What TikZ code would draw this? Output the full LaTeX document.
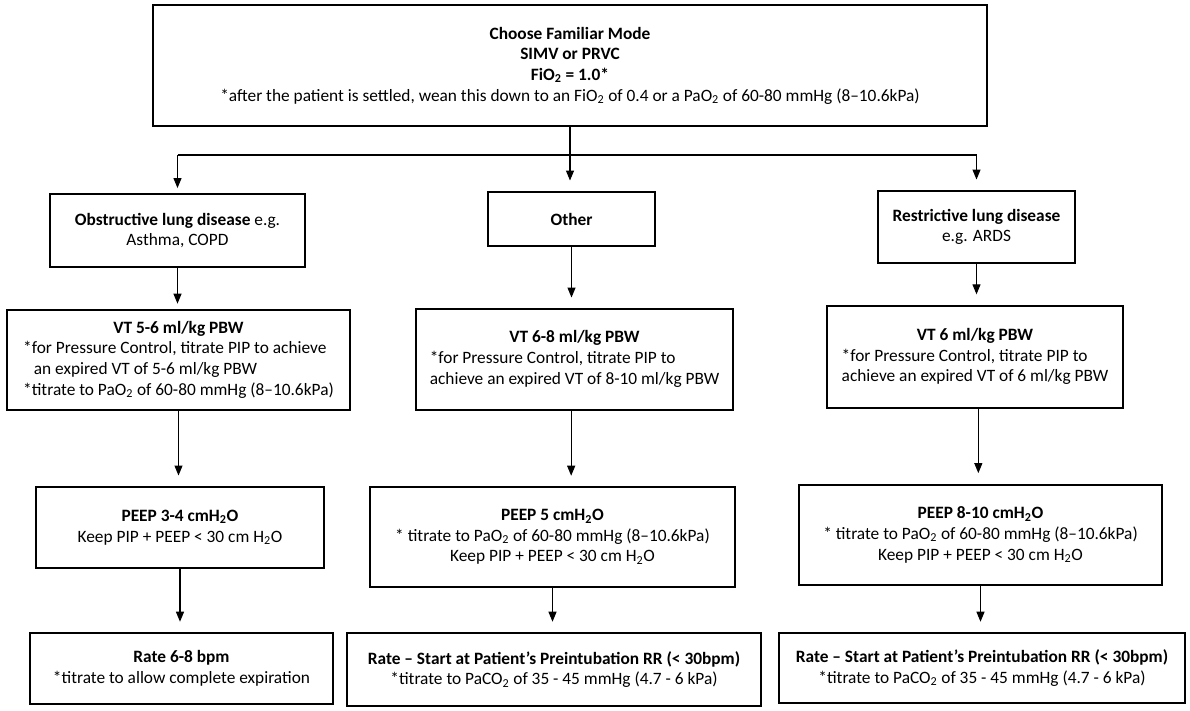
\documentclass[tikz,border=0pt]{standalone}
\usepackage{fontspec}
\setmainfont{Carlito}
\usetikzlibrary{arrows.meta, positioning}

\tikzset{
  box/.style={draw, line width=0.9pt, align=center, inner sep=2pt,
    font=\fontsize{13pt}{15.5pt}\selectfont},
  heavybox/.style={box, line width=1.5pt},
  wire/.style={line width=0.8pt},
  link/.style={wire, -{Triangle[length=7.5pt,width=6pt]}, shorten >=8pt},
}

\begin{document}
\begin{tikzpicture}[x=0.75pt, y=-0.75pt]
\useasboundingbox (0,0) rectangle (1190,711);

% mode
\node[box, minimum width=625.5pt, minimum height=90.75pt] (mode) at (570,65.5)
  {\textbf{Choose Familiar Mode}\\ \textbf{SIMV or PRVC}\\ \textbf{FiO\textsubscript{2} = 1.0*}\\
   *after the patient is settled, wean this down to an FiO\textsubscript{2} of 0.4 or a PaO\textsubscript{2} of 60-80 mmHg (8–10.6kPa)};

% disease
\node[box, minimum width=191.25pt, minimum height=54.75pt] (obstr) at (177.5,230.5)
  {\textbf{Obstructive lung disease} e.g.\\ Asthma, COPD};
\node[box, line width=1.2pt, minimum width=125.25pt, minimum height=40.5pt] (other) at (571.5,219)
  {\textbf{Other}};
\node[box, line width=1.2pt, minimum width=147.75pt, minimum height=54pt] (restr) at (976.5,227)
  {\textbf{Restrictive lung disease}\\ e.g. ARDS};

% tidal volume
\node[heavybox, minimum width=257.25pt, minimum height=75pt] (vtobstr) at (178.5,360)
  {\begin{tabular}{@{}l@{}}
   \multicolumn{1}{@{}c@{}}{\textbf{VT 5-6 ml/kg PBW}}\\
   {*}for Pressure Control, titrate PIP to achieve\\
   \hspace*{8pt}an expired VT of 5-6 ml/kg PBW\\
   {*}titrate to PaO\textsubscript{2} of 60-80 mmHg (8–10.6kPa)
   \end{tabular}};
\node[box, line width=1.2pt, minimum width=237.75pt, minimum height=75.75pt] (vtother) at (574.5,359.5)
  {\begin{tabular}{@{}l@{}}
   \multicolumn{1}{@{}c@{}}{\textbf{VT 6-8 ml/kg PBW}}\\
   {*}for Pressure Control, titrate PIP to\\
   achieve an expired VT of 8-10 ml/kg PBW
   \end{tabular}};
\node[heavybox, minimum width=222pt, minimum height=76.5pt] (vtrestr) at (975,357)
  {\begin{tabular}{@{}l@{}}
   \multicolumn{1}{@{}c@{}}{\textbf{VT 6 ml/kg PBW}}\\
   {*}for Pressure Control, titrate PIP to\\
   achieve an expired VT of 6 ml/kg PBW
   \end{tabular}};

% peep
\node[box, line width=1.2pt, minimum width=216pt, minimum height=60.75pt] (peobstr) at (180,527.5)
  {\textbf{PEEP 3-4 cmH\textsubscript{2}O}\\ Keep PIP + PEEP < 30 cm H\textsubscript{2}O};
\node[box, minimum width=273.75pt, minimum height=75pt] (peother) at (552.5,537)
  {\textbf{PEEP 5 cmH\textsubscript{2}O}\\ {*} titrate to PaO\textsubscript{2} of 60-80 mmHg (8–10.6kPa)\\
   Keep PIP + PEEP < 30 cm H\textsubscript{2}O};
\node[heavybox, line width=1.8pt, minimum width=272.25pt, minimum height=75pt] (perestr) at (980.5,535)
  {\textbf{PEEP 8-10 cmH\textsubscript{2}O}\\ {*} titrate to PaO\textsubscript{2} of 60-80 mmHg (8–10.6kPa)\\
   Keep PIP + PEEP < 30 cm H\textsubscript{2}O};

% rate
\node[box, minimum width=227.25pt, minimum height=53.25pt] (raobstr) at (181.5,668.5)
  {\textbf{Rate 6-8 bpm}\\ {*}titrate to allow complete expiration};
\node[box, minimum width=310.5pt, minimum height=54.75pt] (raother) at (554,669.5)
  {\textbf{Rate – Start at Patient’s Preintubation RR (< 30bpm)}\\
   {*}titrate to PaCO\textsubscript{2} of 35 - 45 mmHg (4.7 - 6 kPa)};
\node[box, minimum width=304.5pt, minimum height=52.5pt] (rarestr) at (982,668)
  {\textbf{Rate – Start at Patient’s Preintubation RR (< 30bpm)}\\
   {*}titrate to PaCO\textsubscript{2} of 35 - 45 mmHg (4.7 - 6 kPa)};

% connectors
\coordinate (split) at (570,155);
\draw[wire] (obstr.north |- split) -- (restr.north |- split);
\draw[link] (mode.south) -- (mode.south |- other.north);
\draw[link, shorten >=4pt] (obstr.north |- split) -- (obstr.north);
\draw[link] (restr.north |- split) -- (restr.north);

\draw[link, shorten >=4pt] (obstr.south) -- (obstr.south |- vtobstr.north);
\draw[link] (other.south) -- (other.south |- vtother.north);
\draw[link] (restr.south) -- (restr.south |- vtrestr.north);

\draw[link] (vtobstr.south) -- (vtobstr.south |- peobstr.north);
\draw[link] ([xshift=-2.5pt]vtother.south) -- ([xshift=-2.5pt]vtother.south |- peother.north);
\draw[link] ([xshift=2.5pt]vtrestr.south) -- ([xshift=2.5pt]vtrestr.south |- perestr.north);

\draw[link] (peobstr.south) -- (peobstr.south |- raobstr.north);
\draw[link] (peother.south) -- (peother.south |- raother.north);
\draw[link] (perestr.south) -- (perestr.south |- rarestr.north);
\end{tikzpicture}
\end{document}
